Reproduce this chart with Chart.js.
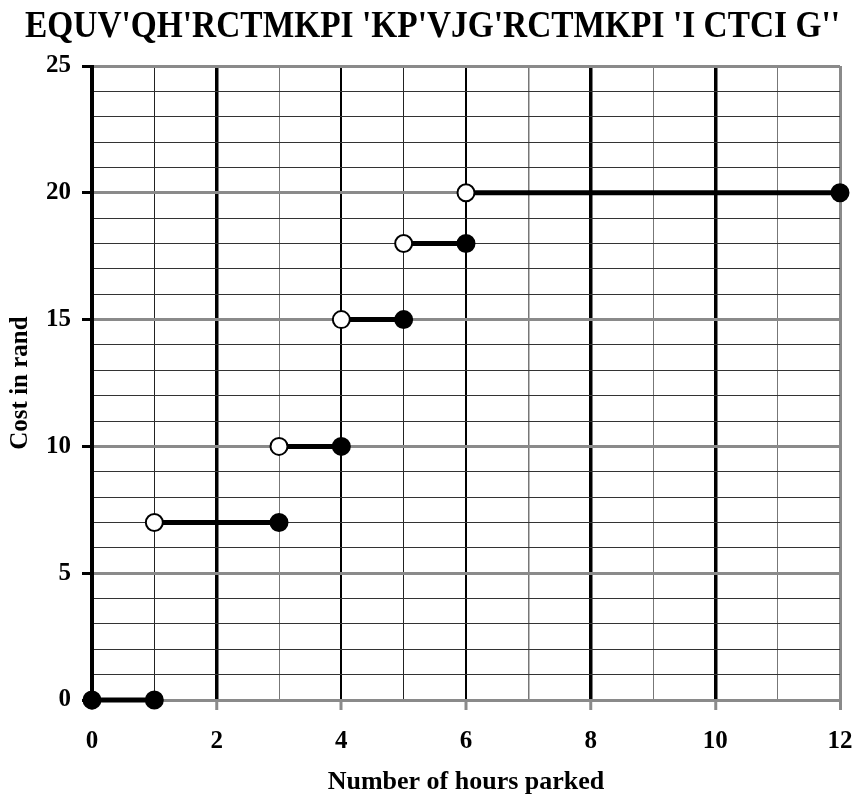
<!DOCTYPE html>
<html>
<head>
<meta charset="utf-8">
<script src="https://cdn.jsdelivr.net/npm/chart.js@4"></script>
<style>
  html, body { margin: 0; padding: 0; background: #fff; }
  #wrap { position: relative; width: 857px; height: 798px; }
  #titulo {
    position: absolute; left: 0; top: 2px; width: 857px;
    font-family: 'Liberation Serif', 'Times New Roman', serif;
    font-weight: bold; font-size: 38px; line-height: 44px;
    white-space: pre; color: #000;
    transform-origin: 25px 0;
  }
  canvas { position: absolute; left: 0; top: 0; }
</style>
</head>
<body>
<div id="wrap">
  <canvas id="grafico" width="857" height="798"></canvas>
  <div id="titulo"></div>
</div>
<script>
// Dados do gráfico (tarifa por horas de estacionamento)
const tituloTexto = "EQUV'QH'RCTMKPI 'KP'VJG'RCTMKPI 'I CTCI G''";
const horasInicio = [0, 1, 3, 4, 5, 6];
const horasFim = [1, 3, 4, 5, 6, 12];
const custo = [0, 7, 10, 15, 18, 20];
const inicioAberto = [false, true, true, true, true, true];
const ticksX = [0, 2, 4, 6, 8, 10, 12];
const ticksY = [0, 5, 10, 15, 20, 25];

// Título (texto comprimido na horizontal como no original)
const titulo = document.getElementById('titulo');
titulo.textContent = tituloTexto;
const larguraTexto = (() => {
  const span = document.createElement('span');
  span.style.font = "bold 38px 'Liberation Serif'";
  span.style.whiteSpace = 'pre';
  span.textContent = tituloTexto;
  document.body.appendChild(span);
  const w = span.getBoundingClientRect().width;
  document.body.removeChild(span);
  return w;
})();
titulo.style.paddingLeft = '25px';
titulo.style.transform = 'scaleX(' + (815 / larguraTexto) + ')';

// Um dataset por degrau
const datasets = horasInicio.map((x0, i) => ({
  data: [{ x: x0, y: custo[i] }, { x: horasFim[i], y: custo[i] }],
  borderColor: '#000',
  borderWidth: 5,
  pointRadius: 8.5,
  pointBorderWidth: 2,
  pointBorderColor: '#000',
  pointBackgroundColor: [inicioAberto[i] ? '#fff' : '#000', '#000'],
  clip: false,
  showLine: true
}));

const fonte = { family: "'Liberation Serif', 'Times New Roman', serif", weight: 'bold', size: 25 };

function corGradeX(v) {
  if (v === 12) return '#8a8a8a';
  if (v % 2 === 0) return '#000';
  if (v === 1 || v === 5) return '#222';
  return '#777';
}
function larguraGradeX(v) {
  if (v === 0) return 4;
  if (v === 12) return 3;
  if (v === 4 || v === 6) return 2;
  if (v % 2 === 0) return 3.5;
  return v === 7 ? 1.5 : 1;
}

new Chart(document.getElementById('grafico'), {
  type: 'scatter',
  data: { datasets: datasets },
  options: {
    responsive: false,
    animation: false,
    devicePixelRatio: 1,
    layout: { padding: { top: 66, right: 17, bottom: 0, left: 0 } },
    plugins: { legend: { display: false }, tooltip: { enabled: false }, title: { display: false } },
    scales: {
      x: {
        type: 'linear', min: 0, max: 12,
        afterFit: s => { s.height = 98; s.paddingRight = 0; s.paddingLeft = 0; },
        afterBuildTicks: s => { s.ticks = Array.from({ length: 13 }, (_, k) => ({ value: k })); },
        border: { display: false },
        grid: {
          color: c => corGradeX(c.tick.value),
          lineWidth: c => larguraGradeX(c.tick.value),
          tickColor: c => (c.tick.value % 2 === 0 ? '#8a8a8a' : 'rgba(0,0,0,0)'),
          tickWidth: 3,
          tickLength: 10
        },
        ticks: {
          autoSkip: false, maxRotation: 0, padding: 17, color: '#000', font: fonte,
          callback: v => (ticksX.includes(v) ? String(v) : '')
        },
        title: { display: true, text: 'Number of hours parked', color: '#000', font: { ...fonte, size: 26 }, padding: { top: 8, bottom: 0 } }
      },
      y: {
        type: 'linear', min: 0, max: 25,
        afterFit: s => { s.width = 92; },
        afterBuildTicks: s => { s.ticks = Array.from({ length: 26 }, (_, k) => ({ value: k })); },
        border: { display: false },
        grid: {
          color: c => (ticksY.includes(c.tick.value) ? '#8a8a8a' : '#333'),
          lineWidth: c => (ticksY.includes(c.tick.value) ? 3 : 1),
          tickColor: c => (ticksY.includes(c.tick.value) ? '#000' : 'rgba(0,0,0,0)'),
          tickWidth: 3,
          tickLength: 10
        },
        ticks: {
          autoSkip: false, padding: 11, color: '#000', font: fonte,
          callback: v => (ticksY.includes(v) ? String(v) : '')
        },
        title: { display: true, text: 'Cost in rand', color: '#000', font: fonte, padding: { top: 6, bottom: 0 } }
      }
    }
  },
  plugins: [{
    // Redesenha a linha vertical do eixo y por cima da grade horizontal
    id: 'eixoY',
    beforeDatasetsDraw(chart) {
      const { ctx, chartArea } = chart;
      const x0 = chart.scales.x.getPixelForValue(0);
      ctx.save();
      ctx.strokeStyle = '#000';
      ctx.lineWidth = 4;
      ctx.beginPath();
      ctx.moveTo(x0, chartArea.top - 1);
      ctx.lineTo(x0, chartArea.bottom + 1);
      ctx.stroke();
      ctx.restore();
    }
  }]
});
</script>
</body>
</html>
